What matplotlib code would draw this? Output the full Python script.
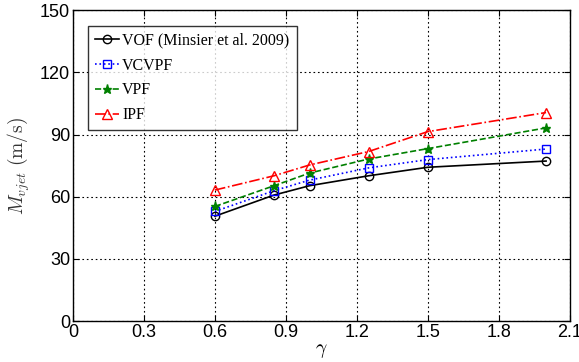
import matplotlib
matplotlib.use("Agg")
import matplotlib.pyplot as plt

plt.rcParams['mathtext.fontset'] = 'cm'

# Данные
gamma = [0.6, 0.85, 1.0, 1.25, 1.5, 2.0]
vof = [50.6, 60.8, 65.3, 70.1, 74.2, 77.2]
vcvpf = [52.9, 62.9, 68.0, 73.9, 77.9, 83.0]
vpf = [55.3, 65.3, 71.4, 78.2, 83.2, 93.2]
ipf = [63.2, 70.1, 75.3, 81.8, 91.4, 100.6]

xticks = [0, 0.3, 0.6, 0.9, 1.2, 1.5, 1.8, 2.1]
xticklabels = ['0', '0.3', '0.6', '0.9', '1.2', '1.5', '1.8', '2.1']
yticks = [0, 30, 60, 90, 120, 150]

fig = plt.figure(figsize=(5.79, 3.62), dpi=100)
ax = fig.add_axes([0.126, 0.113, 0.858, 0.859])

ax.plot(gamma, vof, '-', color='black', lw=1.2, marker='o', ms=6,
        mfc='none', mew=1.0, label='VOF (Minsier et al. 2009)')
ax.plot(gamma, vcvpf, ':', color='#0000ff', lw=1.2, marker='s', ms=5.5,
        mfc='none', mew=1.0, label='VCVPF')
ax.plot(gamma, vpf, '--', color='#008000', lw=1.2, marker='*', ms=6.5,
        mew=1.0, label='VPF')
ax.plot(gamma, ipf, '-.', color='#ff0000', lw=1.2, marker='^', ms=6.5,
        mfc='none', mew=1.0, label='IPF')

ax.set_xlim(0, 2.1)
ax.set_ylim(0, 150)
ax.set_xticks(xticks)
ax.set_xticklabels(xticklabels)
ax.set_yticks(yticks)
ax.tick_params(direction='in', top=True, right=True, labelsize=13,
               length=4, width=0.8, pad=2)
for lbl in ax.get_xticklabels() + ax.get_yticklabels():
    lbl.set_family('Liberation Sans')
for s in ax.spines.values():
    s.set_linewidth(1.0)

ax.grid(True, color='black', linestyle=(0, (1.5, 2.5)), linewidth=0.8)

ax.set_xlabel(r'$\gamma$', fontsize=14, labelpad=0)
ax.set_ylabel(r'$M_{vjet}\ \mathrm{(m/s)}$', fontsize=14, labelpad=6,
              color='#333333')

leg = ax.legend(loc='upper left', bbox_to_anchor=(0.03, 0.95),
                prop={'family': 'Liberation Serif', 'size': 11.5},
                frameon=True, fancybox=False, edgecolor='black',
                handlelength=1.5, handletextpad=0.2, borderpad=0.45,
                labelspacing=0.55, borderaxespad=0)
leg.get_frame().set_linewidth(1.0)

fig.savefig('out.png', dpi=100)
